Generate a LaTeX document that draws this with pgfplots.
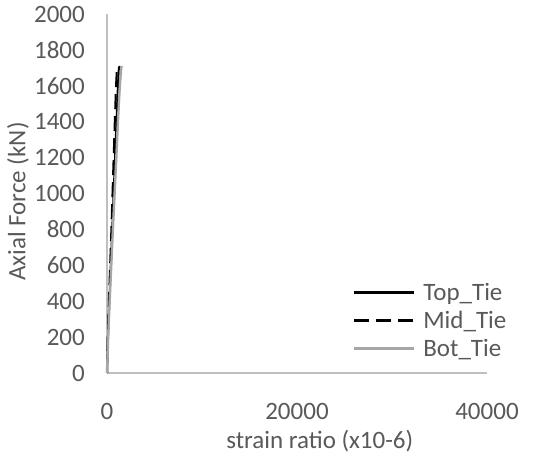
\documentclass[border=0pt]{standalone}
\usepackage{pgfplots}
\pgfplotsset{compat=1.18}
\usepackage{fontspec}
\setmainfont{Carlito}
\definecolor{txtgray}{HTML}{595959}
\definecolor{axgray}{HTML}{BFBFBF}
\definecolor{botgray}{HTML}{A6A6A6}
\begin{document}
\begin{tikzpicture}[x=1pt,y=1pt]
\useasboundingbox (-107,-86) rectangle (434,373);
\begin{axis}[
  at={(0,0)}, anchor=south west,
  scale only axis, width=380pt, height=359pt,
  xmin=0, xmax=40000, ymin=0, ymax=2000,
  axis x line=bottom, axis y line=left,
  axis line style={-, draw=axgray, line width=1.3pt},
  xtick={0,20000,40000}, ytick={0,200,...,2000},
  major tick length=0pt,
  scaled x ticks=false,
  /pgf/number format/assume math mode=true,
  /pgf/number format/set thousands separator={},
  tick label style={font=\fontsize{25}{30}\selectfont, text=txtgray},
  yticklabel style={inner sep=0pt, xshift=-22pt},
  xticklabel style={inner sep=0pt, yshift=-30pt},
  xlabel={strain ratio (x10-6)},
  ylabel={Axial Force (kN)},
  label style={font=\fontsize{25}{30}\selectfont, text=txtgray},
  xlabel style={at={(axis description cs:0.56,0)}, anchor=center, yshift=-68pt},
  ylabel style={at={(axis description cs:0,0.5)}, anchor=center, rotate=0, yshift=89pt, xshift=-8pt},
  legend style={at={(axis description cs:0.647,0.256)}, anchor=north west, draw=none, fill=none,
    font=\fontsize{25}{30}\selectfont, text=txtgray, inner sep=0pt, row sep=5pt},
  legend cell align=left,
  legend image code/.code={\path[draw=none,fill=none] (0pt,-6pt) rectangle (67pt,6pt);\draw[#1, line width=2.6pt] (0pt,0pt) -- (60pt,0pt);},
  clip=false,
]
\addplot[black, line width=2pt] coordinates {
(0,0)(100,200)(250,400)(400,600)(550,800)(700,1000)(850,1200)(1000,1400)(1150,1600)(1250,1700)(1350,1710)
};
\addlegendentry{Top\_Tie}
\addplot[black, line width=2pt, dash pattern=on 15pt off 7pt] coordinates {
(0,0)(80,200)(200,400)(330,600)(460,800)(580,1000)(700,1200)(820,1400)(950,1600)(1050,1700)(1300,1705)(1350,1690)
};
\addlegendentry{Mid\_Tie}
\addplot[botgray, line width=2.4pt] coordinates {
(0,0)(120,200)(280,400)(450,600)(620,800)(800,1000)(980,1200)(1150,1400)(1350,1600)(1500,1700)(1550,1710)
};
\addlegendentry{Bot\_Tie}
\end{axis}
\end{tikzpicture}
\end{document}
